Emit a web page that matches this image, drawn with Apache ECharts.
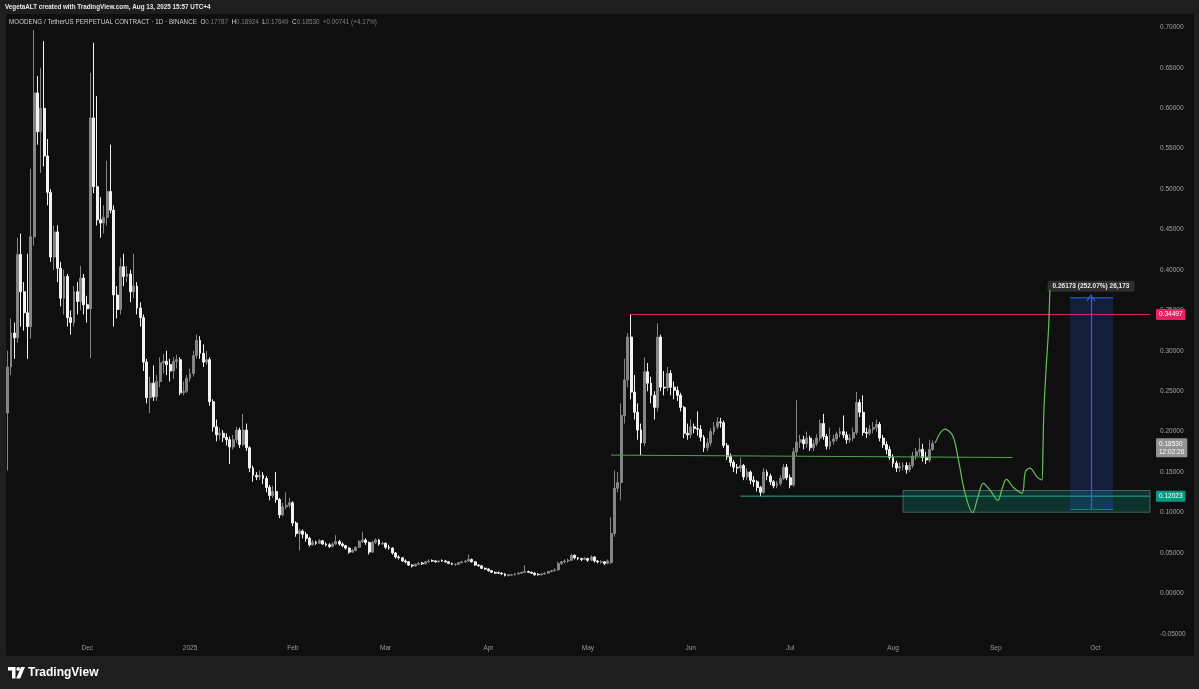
<!DOCTYPE html>
<html>
<head>
<meta charset="utf-8">
<script src="https://cdn.jsdelivr.net/npm/echarts@6/dist/echarts.min.js"></script>
<style>
html,body{margin:0;padding:0;background:#1e1e1e;}
#c{width:1199px;height:689px;}
</style>
</head>
<body>
<div id="c"></div>
<script>
// ---------- categories / ticks ----------
const startDate = Date.UTC(2024, 10, 7);   // first daily candle: 2024-11-07
const totalDays = 345;                      // axis runs to mid-Oct 2025
const monthTicks = {'12-01':'Dec','01-01':'2025','02-01':'Feb','03-01':'Mar','04-01':'Apr','05-01':'May',
  '06-01':'Jun','07-01':'Jul','08-01':'Aug','09-01':'Sep','10-01':'Oct'};

// ---------- OHLC (daily, 2024-11-07 .. 2025-08-13) ----------
const opens = [
0.223,0.280,0.322,0.316,0.419,0.373,0.347,0.330,0.441,0.619,
0.571,0.600,0.541,0.496,0.416,0.447,0.402,0.365,0.392,0.341,
0.335,0.373,0.361,0.390,0.357,0.352,0.588,0.503,0.462,0.458,
0.465,0.497,0.474,0.369,0.351,0.404,0.392,0.395,0.373,0.380,
0.353,0.341,0.286,
0.242,0.260,0.243,0.262,0.285,0.287,0.283,0.275,0.287,0.289,
0.248,0.250,0.266,0.272,0.294,0.313,0.297,0.286,0.289,0.237,
0.206,0.196,0.198,0.193,0.190,0.181,0.190,0.202,0.184,0.202,
0.180,0.155,0.146,0.144,0.146,0.142,0.131,0.121,0.126,0.116,
0.097,0.107,0.109,0.112,0.087,0.074,0.077,0.073,
0.068,0.060,0.063,0.062,0.065,0.061,0.060,0.058,0.061,0.064,
0.061,0.059,0.056,0.051,0.053,0.057,0.064,0.066,0.063,0.051,
0.063,0.066,0.061,0.062,0.057,0.056,0.050,0.045,0.044,0.040,
0.039,0.035,0.034,0.036,0.0375,0.0365,0.039,0.0405,0.040,0.039,
0.0405,0.040,0.039,0.037,0.0355,0.036,0.038,0.039,0.040,0.042,
0.039,0.035,0.034,0.031,0.030,0.028,0.026,0.0255,0.025,0.024,
0.022,0.0225,0.023,0.024,0.025,0.026,0.027,0.026,0.025,0.0235,
0.023,0.024,0.025,0.027,0.028,0.029,0.037,0.039,0.040,0.041,
0.047,0.044,0.043,0.042,0.043,0.041,0.045,0.040,0.0385,0.039,
0.037,0.038,
0.074,0.130,0.137,0.220,0.264,0.317,0.249,0.224,0.202,0.186,
0.274,0.260,0.245,0.230,0.317,0.255,0.254,0.272,0.255,0.251,
0.245,0.230,0.198,0.196,0.206,0.204,0.203,0.193,0.180,0.186,
0.200,0.206,0.212,0.211,0.183,0.169,0.162,0.156,0.155,0.158,
0.144,0.150,0.140,0.138,0.131,0.125,0.150,0.145,0.138,0.133,
0.136,0.142,0.156,0.143,0.134,0.175,0.187,0.190,0.185,0.192,
0.180,0.185,0.192,0.210,0.194,0.182,0.188,0.191,0.197,0.200,
0.196,0.190,0.192,0.199,0.236,0.224,0.199,0.198,0.203,0.205,
0.209,0.192,0.184,0.178,0.168,0.161,0.155,0.157,0.158,0.153,
0.158,0.170,0.175,0.178,0.168,0.165,0.17787
];
const closes = [
0.280,0.322,0.316,0.419,0.373,0.347,0.330,0.441,0.619,0.571,
0.600,0.541,0.496,0.416,0.447,0.402,0.365,0.392,0.341,0.335,
0.373,0.361,0.390,0.357,0.352,0.588,0.503,0.462,0.458,0.465,
0.497,0.474,0.369,0.351,0.404,0.392,0.395,0.373,0.380,0.353,
0.341,0.286,0.242,
0.260,0.243,0.262,0.285,0.287,0.283,0.275,0.287,0.289,0.248,
0.250,0.266,0.272,0.294,0.313,0.297,0.286,0.289,0.237,0.206,
0.196,0.198,0.193,0.190,0.181,0.190,0.202,0.184,0.202,0.180,
0.155,0.146,0.144,0.146,0.142,0.131,0.121,0.126,0.116,0.097,
0.107,0.109,0.112,0.087,0.074,0.077,0.073,0.068,
0.060,0.063,0.062,0.065,0.061,0.060,0.058,0.061,0.064,0.061,
0.059,0.056,0.051,0.053,0.057,0.064,0.066,0.063,0.051,0.063,
0.066,0.061,0.062,0.057,0.056,0.050,0.045,0.044,0.040,0.039,
0.035,0.034,0.036,0.037,0.0365,0.039,0.040,0.040,0.039,0.040,
0.040,0.039,0.037,0.036,0.036,0.038,0.039,0.040,0.042,0.039,
0.035,0.034,0.031,0.030,0.028,0.026,0.025,0.025,0.024,0.022,
0.023,0.023,0.024,0.025,0.026,0.027,0.026,0.025,0.023,0.023,
0.024,0.025,0.027,0.028,0.029,0.037,0.039,0.040,0.041,0.047,
0.044,0.043,0.042,0.043,0.041,0.045,0.040,0.039,0.039,0.037,
0.040,0.074,
0.130,0.137,0.220,0.264,0.317,0.249,0.224,0.202,0.186,0.274,
0.260,0.245,0.230,0.317,0.255,0.254,0.272,0.255,0.251,0.245,
0.230,0.198,0.196,0.206,0.204,0.203,0.193,0.180,0.186,0.200,
0.206,0.212,0.211,0.183,0.169,0.162,0.156,0.155,0.158,0.144,
0.150,0.140,0.138,0.131,0.125,0.150,0.145,0.138,0.133,0.136,
0.142,0.156,0.143,0.134,0.175,0.187,0.190,0.185,0.192,0.180,
0.185,0.192,0.210,0.194,0.182,0.188,0.191,0.197,0.200,0.196,
0.190,0.192,0.199,0.236,0.224,0.199,0.198,0.203,0.205,0.209,
0.192,0.184,0.178,0.168,0.161,0.155,0.157,0.158,0.153,0.158,
0.170,0.175,0.178,0.168,0.165,0.17787,0.18530
];
const highs = [
0.300,0.340,0.335,0.440,0.445,0.385,0.420,0.525,0.697,0.640,
0.650,0.683,0.562,0.500,0.455,0.455,0.410,0.400,0.395,0.350,
0.380,0.385,0.405,0.395,0.368,0.644,0.681,0.615,0.490,0.480,
0.535,0.555,0.480,0.380,0.415,0.420,0.405,0.400,0.420,0.385,
0.360,0.345,0.290,
0.268,0.282,0.270,0.292,0.296,0.300,0.290,0.292,0.295,0.292,
0.262,0.270,0.278,0.300,0.320,0.318,0.308,0.300,0.292,0.240,
0.215,0.205,0.202,0.198,0.194,0.196,0.206,0.205,0.222,0.210,
0.182,0.158,0.150,0.152,0.150,0.145,0.134,0.133,0.150,0.118,
0.112,0.125,0.118,0.114,0.089,0.080,0.079,0.076,
0.070,0.066,0.065,0.067,0.066,0.063,0.062,0.063,0.072,0.066,
0.063,0.060,0.057,0.055,0.058,0.066,0.076,0.068,0.064,0.065,
0.068,0.067,0.064,0.063,0.060,0.057,0.051,0.047,0.045,0.042,
0.040,0.036,0.037,0.039,0.039,0.040,0.042,0.042,0.041,0.041,
0.042,0.041,0.040,0.038,0.037,0.039,0.040,0.041,0.048,0.043,
0.040,0.036,0.035,0.032,0.031,0.029,0.027,0.027,0.026,0.025,
0.024,0.024,0.025,0.026,0.027,0.035,0.028,0.027,0.026,0.025,
0.025,0.026,0.028,0.029,0.031,0.039,0.040,0.042,0.043,0.049,
0.048,0.045,0.044,0.045,0.044,0.047,0.046,0.041,0.041,0.040,
0.042,0.094,
0.152,0.150,0.235,0.290,0.322,0.34497,0.270,0.235,0.210,0.292,
0.285,0.268,0.250,0.334,0.320,0.275,0.280,0.276,0.262,0.256,
0.248,0.232,0.210,0.215,0.210,0.225,0.208,0.196,0.192,0.204,
0.212,0.218,0.217,0.214,0.186,0.173,0.165,0.160,0.168,0.160,
0.155,0.152,0.145,0.140,0.133,0.155,0.153,0.148,0.140,0.139,
0.146,0.160,0.160,0.147,0.180,0.239,0.196,0.195,0.200,0.195,
0.190,0.197,0.215,0.222,0.197,0.205,0.196,0.200,0.205,0.220,
0.200,0.197,0.205,0.249,0.240,0.245,0.205,0.208,0.212,0.215,
0.212,0.196,0.188,0.182,0.172,0.164,0.162,0.162,0.162,0.162,
0.175,0.180,0.192,0.185,0.175,0.190,0.18924
];
const lows = [
0.152,0.270,0.290,0.310,0.330,0.325,0.290,0.315,0.430,0.555,
0.520,0.528,0.480,0.410,0.400,0.385,0.355,0.345,0.330,0.320,
0.330,0.345,0.350,0.345,0.335,0.291,0.495,0.455,0.440,0.445,
0.455,0.470,0.330,0.340,0.345,0.380,0.385,0.360,0.365,0.345,
0.330,0.275,0.235,
0.223,0.238,0.238,0.255,0.272,0.270,0.262,0.265,0.278,0.245,
0.245,0.248,0.262,0.268,0.290,0.290,0.280,0.283,0.232,0.200,
0.188,0.190,0.187,0.183,0.160,0.178,0.186,0.180,0.182,0.176,
0.150,0.138,0.140,0.140,0.135,0.125,0.115,0.118,0.112,0.093,
0.095,0.104,0.106,0.083,0.070,0.053,0.068,0.064,
0.058,0.059,0.060,0.061,0.060,0.058,0.056,0.057,0.060,0.059,
0.057,0.054,0.049,0.050,0.052,0.056,0.062,0.060,0.048,0.050,
0.061,0.059,0.060,0.055,0.054,0.048,0.043,0.042,0.039,0.037,
0.034,0.032,0.033,0.035,0.035,0.036,0.038,0.039,0.038,0.038,
0.039,0.038,0.036,0.035,0.034,0.035,0.037,0.038,0.039,0.038,
0.034,0.033,0.030,0.029,0.027,0.025,0.024,0.024,0.023,0.021,
0.021,0.022,0.022,0.023,0.024,0.025,0.025,0.024,0.022,0.022,
0.022,0.023,0.024,0.026,0.027,0.028,0.035,0.037,0.038,0.040,
0.042,0.041,0.040,0.041,0.039,0.040,0.038,0.037,0.037,0.035,
0.036,0.036,
0.070,0.125,0.115,0.210,0.255,0.240,0.215,0.190,0.171,0.182,
0.250,0.235,0.215,0.225,0.250,0.245,0.250,0.245,0.240,0.238,
0.225,0.192,0.190,0.192,0.198,0.195,0.188,0.175,0.176,0.182,
0.196,0.203,0.205,0.180,0.165,0.157,0.150,0.148,0.150,0.140,
0.140,0.135,0.132,0.126,0.120,0.123,0.140,0.134,0.130,0.130,
0.133,0.140,0.140,0.130,0.132,0.170,0.180,0.178,0.180,0.176,
0.176,0.182,0.188,0.190,0.178,0.178,0.184,0.188,0.193,0.192,
0.185,0.186,0.188,0.196,0.218,0.195,0.192,0.195,0.198,0.200,
0.188,0.180,0.172,0.165,0.156,0.150,0.150,0.152,0.148,0.150,
0.155,0.165,0.170,0.163,0.160,0.162,0.17649
];

// ---------- drawings (in data space: [day index, price]) ----------
const resistanceLevel = 0.34497, resistanceStartDay = 188;
const supportLine = [[182, 0.171], [303, 0.168]];
const lowLevel = 0.12023, lowStartDay = 221;
const demandZone = {from: 270, to: 344.5, top: 0.1272, bottom: 0.1003};
const targetBox = {from: 320.4, to: 333.4, top: 0.3655, bottom: 0.1038, arrowDay: 326.7};
const targetLabel = '0.26173 (252.07%) 26,173';
const projectionPath = [
[279.7,0.186],[282.6,0.203],[285.0,0.195],[286.6,0.168],[288.7,0.124],[291.0,0.100],
[292.6,0.119],[294.2,0.136],[296.2,0.128],[298.6,0.115],[300.0,0.131],[301.2,0.141],
[303.3,0.131],[305.9,0.124],[306.9,0.150],[308.3,0.155],[310.4,0.144],[311.9,0.140],
[312.2,0.175],[312.5,0.226],[313.2,0.280],[313.9,0.327],[314.3,0.375]
];
const lastPriceText = '0.18530\n12:02:26';
const lastTagCentre = 0.1805;   // two-line tag: first line sits on the last price
const headerTitle = 'MOODENG / TetherUS PERPETUAL CONTRACT \u00b7 1D \u00b7 BINANCE';
const headerOHLC = [['O','0.17787'],['H','0.18924'],['L','0.17649'],['C','0.18530']];
const headerChange = '+0.00741 (+4.17%)';

// ---------- build ----------
const categories = [];
for (let k = 0; k < totalDays; k++) {
  categories.push(new Date(startDate + k * 86400000).toISOString().slice(0, 10));
}
const candleData = closes.map((c, k) => [opens[k], c, lows[k], highs[k]]);
const axisEnd = totalDays - 0.5;

const FONT = '"Liberation Sans", Arial, sans-serif';
const UP = '#858585', DOWN = '#f2f2f2';
const chevron = 'path://M0,9 L5,0 L10,9 L9,9.8 L5,2.2 L1,9.8 Z';

let headerRich = '{t|' + headerTitle + '}';
headerOHLC.forEach(([k, v]) => { headerRich += '{k|  ' + k + '}{v|' + v + '}'; });
headerRich += '{v|  ' + headerChange + '}';

const tag = (bg, text) => ({
  show: true, distance: 6, formatter: text,
  backgroundColor: bg, color: '#ffffff', fontSize: 6.5, fontFamily: FONT,
  padding: [1.5, 3], lineHeight: 8, borderRadius: 1
});

const levelSeries = (pts, color, label) => ({
  type: 'line', xAxisIndex: 1, data: pts, showSymbol: false, silent: true, z: 4,
  lineStyle: {color: color, width: 1},
  endLabel: label ? tag(label.bg, label.text) : {show: false}
});

const chart = echarts.init(document.getElementById('c'), null, {renderer: 'canvas'});
chart.setOption({
  animation: false,
  backgroundColor: '#1e1e1e',
  grid: {left: 6, right: 49, top: 27.4, bottom: 14.8, containLabel: false},
  xAxis: [{
    type: 'category', data: categories, boundaryGap: true, offset: -30,
    axisLine: {show: false}, axisTick: {show: false}, splitLine: {show: false},
    axisLabel: {
      interval: (idx, val) => val.slice(8) === '01',
      formatter: val => monthTicks[val.slice(5)] || '',
      color: '#9a9a9a', fontSize: 6.5, fontFamily: FONT, margin: 1
    }
  }, {
    type: 'value', min: -0.5, max: axisEnd, show: false
  }],
  yAxis: {
    type: 'value', position: 'right', min: -0.1, max: 0.7, interval: 0.05,
    axisLine: {show: false}, axisTick: {show: false}, splitLine: {show: false},
    axisLabel: {
      formatter: v => v.toFixed(5), showMinLabel: false, showMaxLabel: true,
      color: '#a4a4a4', fontSize: 6.5, fontFamily: FONT, margin: 10
    }
  },
  series: [
    {
      type: 'line', xAxisIndex: 1, data: [], silent: true, z: 1,
      markArea: {
        silent: true,
        data: [
          [{coord: [demandZone.from, demandZone.top], itemStyle: {color: 'rgba(8,153,129,0.26)', borderColor: 'rgba(120,150,150,0.55)', borderWidth: 1}},
           {coord: [demandZone.to, demandZone.bottom]}],
          [{coord: [targetBox.from, targetBox.top], itemStyle: {color: 'rgba(41,98,255,0.18)'}},
           {coord: [targetBox.to, targetBox.bottom]}]
        ]
      }
    },
    {
      type: 'candlestick', xAxisIndex: 0, data: candleData, barWidth: 2.4, z: 3,
      itemStyle: {color: UP, color0: DOWN, borderColor: UP, borderColor0: DOWN, borderWidth: 1},
      markLine: {
        silent: true, symbol: ['none', 'none'],
        lineStyle: {color: 'rgba(0,0,0,0)', width: 1},
        data: [{yAxis: lastTagCentre, label: Object.assign(tag('#929292', lastPriceText), {position: 'end'})}]
      }
    },
    levelSeries([[resistanceStartDay, resistanceLevel], [axisEnd, resistanceLevel]], '#e5265f',
      {bg: '#e91e63', text: resistanceLevel.toFixed(5)}),
    levelSeries([[lowStartDay, lowLevel], [axisEnd, lowLevel]], '#22ab94',
      {bg: '#089981', text: lowLevel.toFixed(5)}),
    levelSeries(supportLine, '#52a34b', null),
    levelSeries([[targetBox.from, targetBox.top], [targetBox.to, targetBox.top]], '#2962ff', null),
    levelSeries([[targetBox.from, targetBox.bottom], [targetBox.to, targetBox.bottom]], '#2962ff', null),
    {
      type: 'line', xAxisIndex: 1, data: [], silent: true, z: 4,
      markLine: {
        silent: true, symbol: ['none', 'none'],
        lineStyle: {color: '#2962ff', width: 1.2, type: 'solid'},
        data: [
          [{coord: [targetBox.arrowDay, targetBox.bottom], symbol: 'none',
            label: {show: true, position: 'end', distance: 6, formatter: targetLabel,
              backgroundColor: '#2e2e2e', color: '#e8e8e8', fontSize: 6.5, fontWeight: 'bold',
              fontFamily: FONT, padding: [2, 5], borderRadius: 2}},
           {coord: [targetBox.arrowDay, targetBox.top], symbol: chevron, symbolSize: [9, 7]}]
        ]
      }
    },
    {
      type: 'line', xAxisIndex: 1, data: projectionPath, showSymbol: false, silent: true, z: 5,
      smooth: 0.35, lineStyle: {color: '#67c15a', width: 1.2}
    }
  ],
  graphic: [
    {type: 'rect', z: -10, silent: true, shape: {x: 6, y: 14, width: 1188, height: 642, r: 3}, style: {fill: '#0f0f0f'}},
    {type: 'text', z: 10, x: 5, y: 7, silent: true,
     style: {text: 'VegetaALT created with TradingView.com, Aug 13, 2025 15:57 UTC+4', fill: '#e8e8e8',
       font: 'bold 6.3px ' + FONT, verticalAlign: 'middle'}},
    {type: 'text', z: 10, x: 9, y: 22, silent: true,
     style: {text: headerRich, verticalAlign: 'middle',
       rich: {
         t: {fill: '#cfcfcf', font: '6.3px ' + FONT},
         k: {fill: '#d8d8d8', font: '6.3px ' + FONT},
         v: {fill: '#808080', font: '6.3px ' + FONT}
       }}},
    {type: 'group', z: 10, silent: true, children: [
      {type: 'polygon', shape: {points: [[8, 667], [15.5, 667], [15.5, 678.5], [12, 678.5], [12, 670.5], [8, 670.5]]}, style: {fill: '#ffffff'}},
      {type: 'circle', shape: {cx: 18.2, cy: 668.9, r: 1.9}, style: {fill: '#ffffff'}},
      {type: 'polygon', shape: {points: [[21, 667], [25, 667], [20.2, 678.5], [16.2, 678.5]]}, style: {fill: '#ffffff'}}
    ]},
    {type: 'text', z: 10, x: 28, y: 673, silent: true,
     style: {text: 'TradingView', fill: '#ffffff', font: 'bold 12px ' + FONT, verticalAlign: 'middle'}}
  ]
});
</script>
</body>
</html>
